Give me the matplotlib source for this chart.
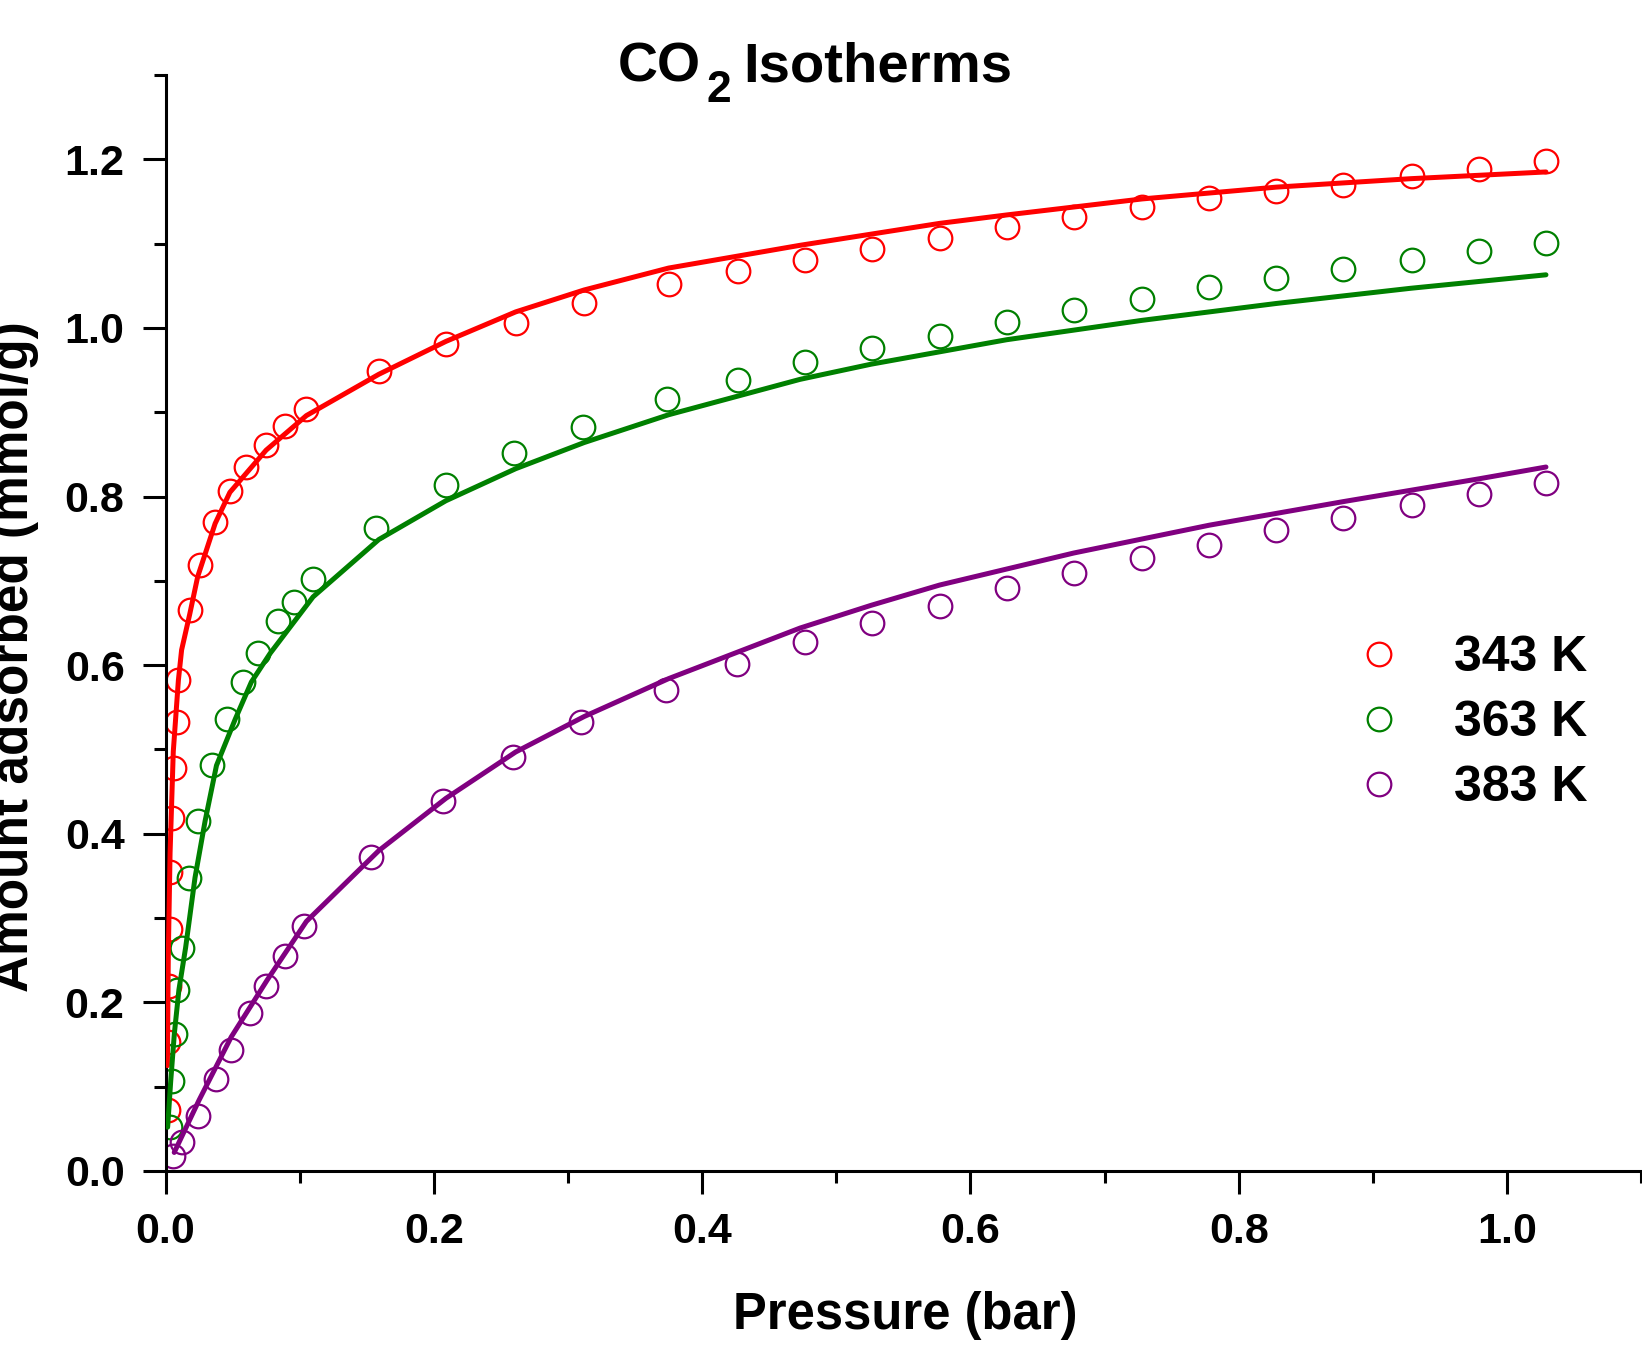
import matplotlib
matplotlib.use('Agg')
import matplotlib.pyplot as plt
from matplotlib.ticker import MultipleLocator, FormatStrFormatter

# ---------------- data ----------------
series_labels = ['343 K', '363 K', '383 K']
series_colors = ['#FF0000', '#008000', '#800080']

# measured points, 343 K
p343 = [0.0015, 0.002, 0.0025, 0.003, 0.0036, 0.0046, 0.0066, 0.0083, 0.0096, 0.018,
        0.026, 0.037, 0.048, 0.060, 0.075, 0.089, 0.105, 0.159, 0.209, 0.261,
        0.312, 0.375, 0.427, 0.477, 0.527, 0.577, 0.627, 0.677, 0.728, 0.778,
        0.828, 0.878, 0.929, 0.979, 1.029]
q343 = [0.072, 0.153, 0.220, 0.287, 0.355, 0.419, 0.478, 0.533, 0.582, 0.665,
        0.719, 0.770, 0.806, 0.835, 0.861, 0.884, 0.904, 0.949, 0.981, 1.006,
        1.029, 1.052, 1.067, 1.081, 1.094, 1.107, 1.120, 1.131, 1.144, 1.154,
        1.163, 1.170, 1.180, 1.189, 1.198]

# measured points, 363 K
p363 = [0.0034, 0.0046, 0.0071, 0.0088, 0.012, 0.0175, 0.024, 0.035, 0.046, 0.058,
        0.069, 0.084, 0.096, 0.110, 0.157, 0.209, 0.260, 0.311, 0.374, 0.427,
        0.477, 0.527, 0.577, 0.627, 0.677, 0.728, 0.778, 0.828, 0.878, 0.929,
        0.979, 1.029]
q363 = [0.052, 0.107, 0.163, 0.215, 0.265, 0.348, 0.415, 0.481, 0.536, 0.580,
        0.614, 0.652, 0.675, 0.702, 0.763, 0.814, 0.852, 0.883, 0.916, 0.938,
        0.959, 0.976, 0.991, 1.007, 1.021, 1.034, 1.048, 1.059, 1.070, 1.081,
        1.091, 1.101]

# measured points, 383 K
p383 = [0.0058, 0.012, 0.0245, 0.038, 0.049, 0.063, 0.075, 0.089, 0.103, 0.153,
        0.207, 0.259, 0.310, 0.373, 0.426, 0.477, 0.527, 0.577, 0.627, 0.677,
        0.728, 0.778, 0.828, 0.878, 0.929, 0.979, 1.029]
q383 = [0.018, 0.034, 0.065, 0.109, 0.143, 0.187, 0.219, 0.255, 0.291, 0.373,
        0.439, 0.491, 0.532, 0.570, 0.601, 0.628, 0.650, 0.670, 0.691, 0.709,
        0.727, 0.742, 0.760, 0.775, 0.790, 0.803, 0.816]

# fitted curves
fit343_p = [0.0014, 0.0021, 0.0034, 0.0058, 0.0096, 0.012, 0.018, 0.024, 0.037, 0.048,
            0.075, 0.105, 0.159, 0.209, 0.261, 0.312, 0.375, 0.473, 0.577, 0.627,
            0.728, 0.828, 0.928, 1.029]
fit343_q = [0.125, 0.257, 0.377, 0.4975, 0.582, 0.618, 0.660, 0.705, 0.768, 0.805,
            0.855, 0.896, 0.945, 0.984, 1.019, 1.045, 1.071, 1.098, 1.124, 1.134,
            1.153, 1.167, 1.177, 1.185]

fit363_p = [0.0016, 0.0039, 0.0066, 0.010, 0.015, 0.022, 0.0295, 0.038, 0.052, 0.064,
            0.078, 0.110, 0.159, 0.209, 0.261, 0.312, 0.375, 0.473, 0.526, 0.627,
            0.728, 0.828, 0.928, 1.029]
fit363_q = [0.052, 0.107, 0.163, 0.215, 0.265, 0.348, 0.415, 0.481, 0.536, 0.580,
            0.614, 0.681, 0.749, 0.795, 0.833, 0.864, 0.897, 0.939, 0.957, 0.986,
            1.009, 1.029, 1.047, 1.063]

fit383_p = [0.0065, 0.025, 0.049, 0.076, 0.105, 0.159, 0.209, 0.261, 0.312, 0.375,
            0.473, 0.526, 0.577, 0.677, 0.778, 0.878, 0.979, 1.029]
fit383_q = [0.022, 0.084, 0.159, 0.227, 0.296, 0.380, 0.442, 0.497, 0.539, 0.584,
            0.644, 0.671, 0.695, 0.733, 0.766, 0.794, 0.821, 0.835]

x_ticks = [0.0, 0.2, 0.4, 0.6, 0.8, 1.0]
y_ticks = [0.0, 0.2, 0.4, 0.6, 0.8, 1.0, 1.2]

title_parts = ['CO', '2', 'Isotherms']
xlabel_text = 'Pressure (bar)'
ylabel_text = 'Amount adsorbed (mmol/g)'

# ---------------- style ----------------
plt.rcParams['font.family'] = ['Liberation Sans', 'DejaVu Sans']
plt.rcParams['font.weight'] = 'bold'

W, H = 1642, 1348
fig = plt.figure(figsize=(W / 100, H / 100), dpi=100)
fig.patch.set_facecolor('white')

x0_px, x1_px = 165.5, 1641.2
y0_px, y1_px = 1171.0, 75.0
ax = fig.add_axes([x0_px / W, (H - y0_px) / H, (x1_px - x0_px) / W, (y0_px - y1_px) / H])

points = [(p343, q343), (p363, q363), (p383, q383)]
fits = [(fit343_p, fit343_q), (fit363_p, fit363_q), (fit383_p, fit383_q)]

handles = []
for (px, qy), (fx, fy), lab, col in zip(points, fits, series_labels, series_colors):
    h, = ax.plot(px, qy, linestyle='none', marker='o', ms=17, mfc='none',
                 mec=col, mew=1.6, label=lab, zorder=2)
    ax.plot(fx, fy, color=col, lw=3.6, solid_capstyle='round',
            solid_joinstyle='round', zorder=3)
    handles.append(h)

ax.set_xlim(0, 1.1)
ax.set_ylim(0, 1.3)
ax.xaxis.set_minor_locator(MultipleLocator(0.1))
ax.yaxis.set_minor_locator(MultipleLocator(0.1))
ax.set_xticks(x_ticks)
ax.set_yticks(y_ticks)
ax.xaxis.set_major_formatter(FormatStrFormatter('%.1f'))
ax.yaxis.set_major_formatter(FormatStrFormatter('%.1f'))

for s in ['top', 'right']:
    ax.spines[s].set_visible(False)
for s in ['left', 'bottom']:
    ax.spines[s].set_linewidth(2.2)
    ax.spines[s].set_color('black')

ax.tick_params(which='major', direction='out', length=16.5, width=2.2,
               labelsize=31, pad=13, colors='black')
ax.tick_params(which='minor', direction='out', length=8.6, width=2.2, colors='black')
for lbl in ax.get_xticklabels() + ax.get_yticklabels():
    lbl.set_fontweight('bold')

# ---------------- title (CO, large subscript 2, Isotherms) ----------------
renderer = fig.canvas.get_renderer()
base_top = 81.7      # baseline, px from top
sub_top = 101.7      # subscript baseline, px from top
t1 = fig.text(618 / W, (H - base_top) / H, title_parts[0], fontsize=40,
              fontweight='bold', ha='left', va='baseline')
e1 = t1.get_window_extent(renderer=renderer)
t2 = fig.text((e1.x1 + 5) / W, (H - sub_top) / H, title_parts[1], fontsize=32,
              fontweight='bold', ha='left', va='baseline')
e2 = t2.get_window_extent(renderer=renderer)
t3 = fig.text((e2.x1 + 12) / W, (H - base_top) / H, title_parts[2], fontsize=40.5,
              fontweight='bold', ha='left', va='baseline')

# ---------------- axis labels ----------------
fig.text(905 / W, (H - 1329.5) / H, xlabel_text, fontsize=36.5, fontweight='bold',
         ha='center', va='baseline')
fig.text(39 / W, (H - 657) / H, ylabel_text, fontsize=37, fontweight='bold',
         rotation=90, ha='right', va='center')

# ---------------- legend ----------------
ax.legend(handles=handles, loc='upper left',
          bbox_to_anchor=(1354 / W, (H - 635) / H), bbox_transform=fig.transFigure,
          frameon=False, prop={'size': 36, 'weight': 'bold'},
          handlelength=1.0, handletextpad=1.0, labelspacing=0.38,
          borderpad=0, borderaxespad=0, numpoints=1)

fig.savefig('out.png', dpi=100, facecolor='white')
